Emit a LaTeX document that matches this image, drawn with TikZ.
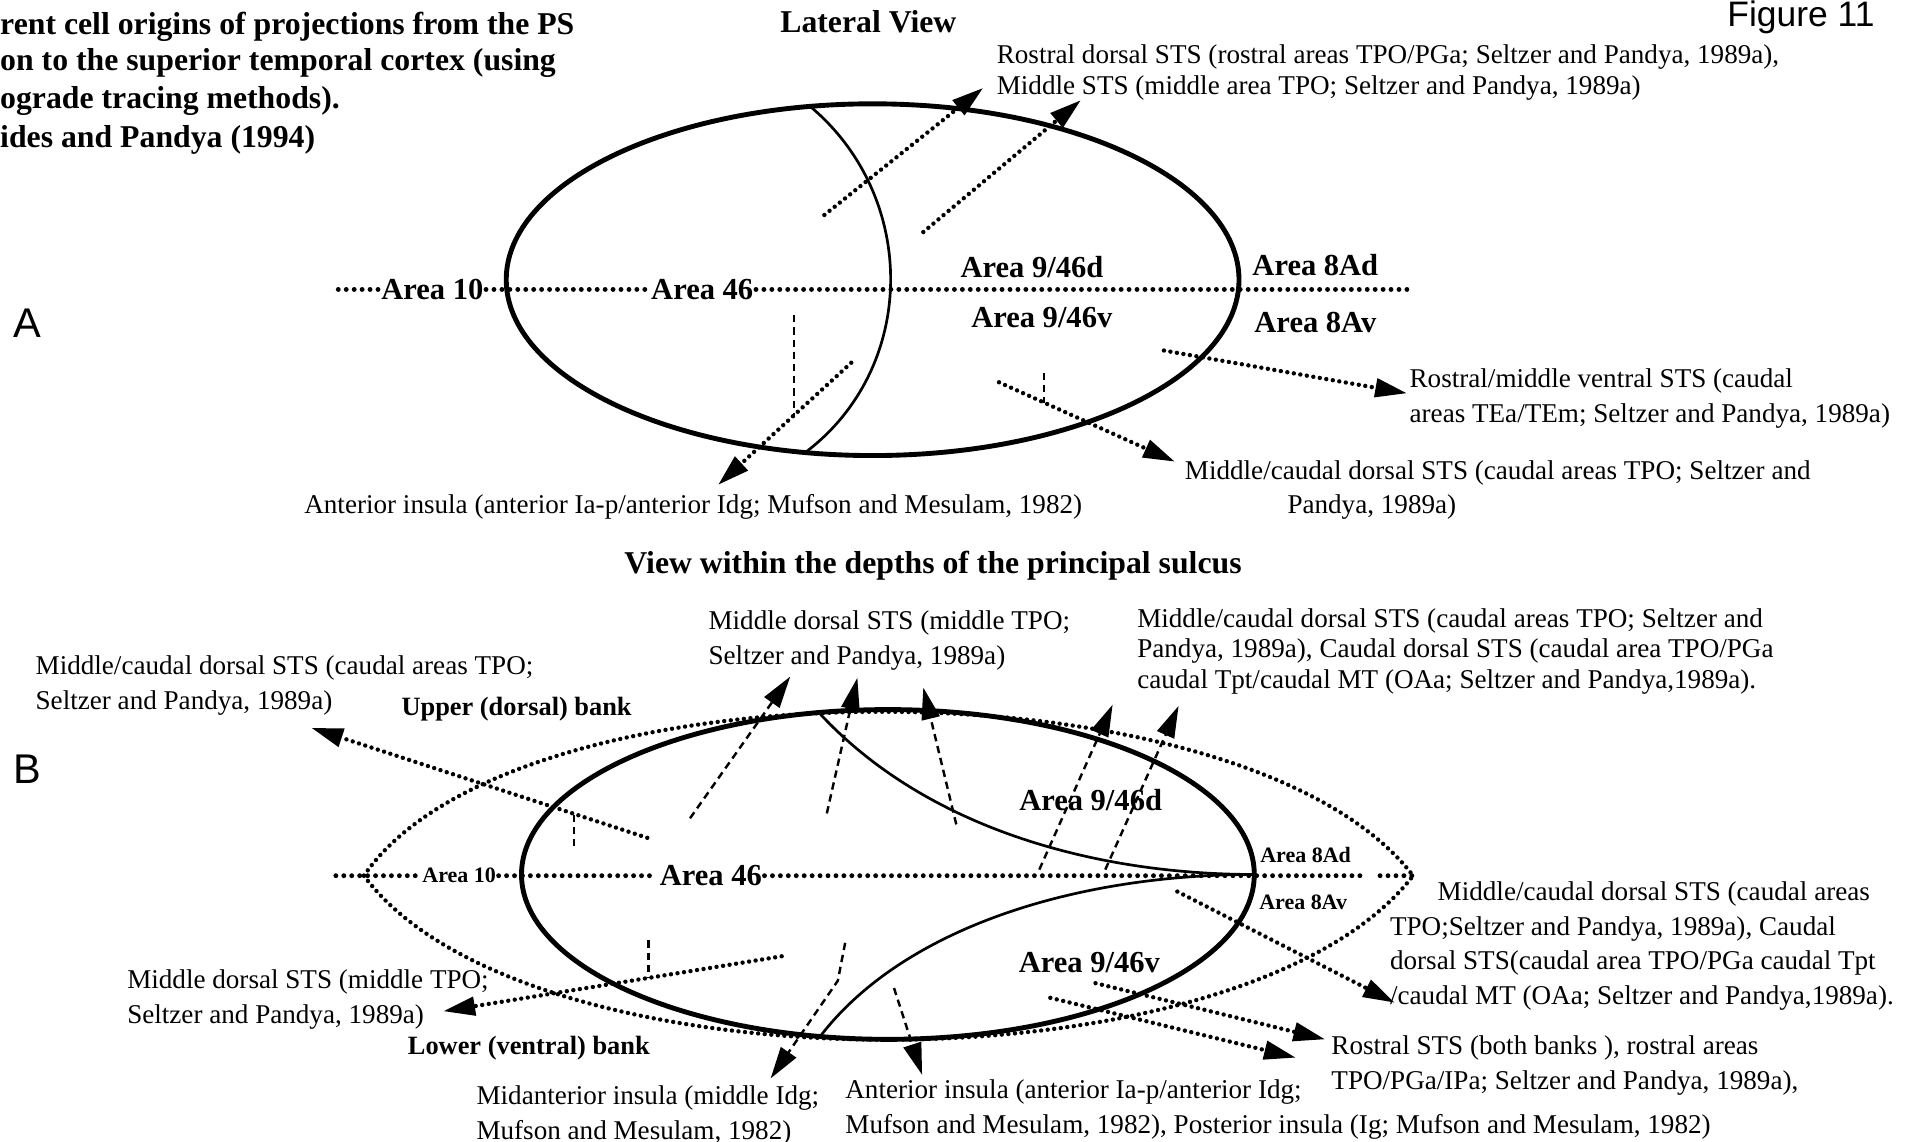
\documentclass[tikz,border=0pt]{standalone}
\usepackage{fontspec}
\setmainfont{Liberation Serif}
\newfontfamily\sansfam{Liberation Sans}
\usetikzlibrary{arrows.meta}
\begin{document}
\begin{tikzpicture}[x=1pt,y=-1pt,
  ell/.style={line width=4pt},
  thinline/.style={line width=2.2pt},
  dots/.style={line width=3.6pt, line cap=round, dash pattern=on 0pt off 5.4pt},
  adots/.style={line width=4pt, line cap=round, dash pattern=on 0pt off 6.5pt},
  dsh/.style={line width=2pt, dash pattern=on 6pt off 4pt},
  tip/.style={-{Triangle[length=26pt,width=15pt]}},
  body/.style={font=\fontsize{22.2}{28.2}\selectfont, inner sep=0pt, anchor=north west, align=left},
  ttl/.style={font=\bfseries\fontsize{26}{31}\selectfont, inner sep=0pt},
  area/.style={font=\bfseries\fontsize{25}{29}\selectfont, inner sep=2pt},
  smallarea/.style={font=\bfseries\fontsize{18}{22}\selectfont, inner sep=2pt},
  bank/.style={font=\bfseries\fontsize{21.6}{26}\selectfont, inner sep=0pt},
  panel/.style={font=\sansfam\fontsize{34}{40}\selectfont, inner sep=0pt},
]
\useasboundingbox (0,0) rectangle (1568,935);

% ---------- headings ----------
\node[ttl, anchor=base west] (h1) at (0,28) {rent cell origins of projections from the PS};
\node[ttl, anchor=base west] (h2) at (0,58) {on to the superior temporal cortex (using};
\node[ttl, anchor=base west] (h3) at (0,89) {ograde tracing methods).};
\node[ttl, anchor=base west] (h4) at (0,121) {ides and Pandya (1994)};
\node[ttl] (lat) at (711,18) {Lateral View};
\node[font=\sansfam\fontsize{29}{34}\selectfont, inner sep=0pt, anchor=east] (fig) at (1535,14) {Figure 11};
\node[panel] (pA) at (22,265) {A};
\node[panel] (pB) at (22,630) {B};
\node[ttl] (depth) at (764,463) {View within the depths of the principal sulcus};

% ---------- panel A: lateral view ----------
\draw[ell] (714.5,229) ellipse [x radius=300, y radius=144];
\draw[thinline] (662,86) .. controls (752,160) and (752,300) .. (660,370);

\coordinate (aL) at (277,237);
\coordinate (aR) at (1157,237);
\node[area] (a10) at (354,237) {Area 10};
\node[area] (a46) at (575,237) {Area 46};
\draw[adots] (aL) -- (a10.west);
\draw[adots] (a10.east) -- (a46.west);
\draw[adots] (a46.east) -- (aR);
\node[area] (a946d) at (845,219) {Area 9/46d};
\node[area] (a946v) at (853,260) {Area 9/46v};
\node[area] (a8ad) at (1077,217) {Area 8Ad};
\node[area] (a8av) at (1077,264) {Area 8Av};

% projections
\coordinate (r1s) at (675,176); \coordinate (r1e) at (805,72);
\coordinate (r2s) at (756,190); \coordinate (r2e) at (885,82);
\draw[dots,tip] (r1s) -- (r1e);
\draw[dots,tip] (r2s) -- (r2e);

\coordinate (ai1) at (697,297); \coordinate (ai2) at (588,397);
\coordinate (av1) at (650,258); \coordinate (av2) at (650,340);
\draw[dots,tip] (ai1) -- (ai2);
\draw[dsh] (av1) -- (av2);

\coordinate (mc1) at (818,313); \coordinate (mc2) at (962,378);
\coordinate (mv1) at (855,305); \coordinate (mv2) at (855,330);
\draw[dots,tip] (mc1) -- (mc2);
\draw[dsh] (mv1) -- (mv2);

\coordinate (rv1) at (953,287); \coordinate (rv2) at (1152,322);
\draw[dots,tip] (rv1) -- (rv2);

\node[body] (lA1) at (816,36) {Rostral dorsal STS (rostral areas TPO/PGa; Seltzer and Pandya, 1989a),\\[-2.2pt]Middle STS (middle area TPO; Seltzer and Pandya, 1989a)};
\node[body] (lA2) at (1154,302) {Rostral/middle ventral STS (caudal\\areas TEa/TEm; Seltzer and Pandya, 1989a)};
\node[body] (lA3) at (970,377) {Middle/caudal dorsal STS (caudal areas TPO; Seltzer and\\\hspace*{84pt}Pandya, 1989a)};
\node[body] (lA4) at (249,405) {Anterior insula (anterior Ia-p/anterior Idg; Mufson and Mesulam, 1982)};

% ---------- panel B: depths of the principal sulcus ----------
\coordinate (vL) at (298,717);
\coordinate (vR) at (1157,717);
\draw[dots] (vL) .. controls (420,538) and (1020,538) .. (vR);
\draw[dots] (vL) .. controls (430,896) and (1020,896) .. (vR);
\draw[ell] (727,716) ellipse [x radius=300, y radius=135];
\draw[thinline] (671,584) .. controls (760,680) and (900,716) .. (1027,716);
\draw[thinline] (672,848) .. controls (740,760) and (880,716) .. (1027,716);

\coordinate (bL) at (275,717);
\coordinate (bR1) at (1118,717);
\coordinate (bR2) at (1130,717);
\node[smallarea] (b10) at (376,717) {Area 10};
\node[area] (b46) at (582,717) {Area 46};
\draw[adots] (bL) -- (b10.west);
\draw[adots] (b10.east) -- (b46.west);
\draw[adots] (b46.east) -- (bR1);
\draw[adots] (bR2) -- (vR);
\node[area] (b946d) at (893,655) {Area 9/46d};
\node[area] (b946v) at (892,788) {Area 9/46v};
\node[smallarea] (b8ad) at (1069,700) {Area 8Ad};
\node[smallarea] (b8av) at (1067,739) {Area 8Av};
\node[bank] (up) at (423,581) {Upper (dorsal) bank};
\node[bank] (lo) at (433,858) {Lower (ventral) bank};

% upward projections
\coordinate (ua1) at (565,670); \coordinate (ua2) at (647,554);
\coordinate (ub1) at (677,666); \coordinate (ub2) at (702,555);
\coordinate (uc1) at (783,675); \coordinate (uc2) at (756,563);
\coordinate (ud1) at (851,712); \coordinate (ud2) at (911,577);
\coordinate (ue1) at (905,712); \coordinate (ue2) at (965,578);
\draw[dsh,tip] (ua1) -- (ua2);
\draw[dsh,tip] (ub1) -- (ub2);
\draw[dsh,tip] (uc1) -- (uc2);
\draw[dsh,tip] (ud1) -- (ud2);
\draw[dsh,tip] (ue1) -- (ue2);

% leftward projections
\coordinate (lt1) at (530,686); \coordinate (lt2) at (255,596);
\coordinate (ltv1) at (470,667); \coordinate (ltv2) at (470,693);
\draw[dots,tip] (lt1) -- (lt2);
\draw[dsh] (ltv1) -- (ltv2);
\coordinate (lb1) at (640,783); \coordinate (lb2) at (363,828);
\coordinate (lbv1) at (531,770); \coordinate (lbv2) at (531,801);
\draw[dots,tip] (lb1) -- (lb2);
\draw[dsh] (lbv1) -- (lbv2);

% downward projections
\coordinate (df1) at (692,772); \coordinate (dfk) at (686,803); \coordinate (df2) at (631,883);
\draw[dsh,tip] (df1) -- (dfk) -- (df2);
\coordinate (dg1) at (732,809); \coordinate (dg2) at (755,880);
\draw[dsh,tip] (dg1) -- (dg2);

% rightward projections
\coordinate (rh1) at (964,730); \coordinate (rh2) at (1142,821);
\draw[dots,tip] (rh1) -- (rh2);
\coordinate (ri1) at (897,805); \coordinate (ri2) at (1085,851);
\draw[dots,tip] (ri1) -- (ri2);
\coordinate (rj1) at (860,817); \coordinate (rj2) at (1061,866);
\draw[dots,tip] (rj1) -- (rj2);

\node[body] (lB1) at (580,500) {Middle dorsal STS (middle TPO;\\Seltzer and Pandya, 1989a)};
\node[body] (lB2) at (931,498) {Middle/caudal dorsal STS (caudal areas TPO; Seltzer and\\[-3.2pt]Pandya, 1989a), Caudal dorsal STS (caudal area TPO/PGa\\[-3.2pt]caudal Tpt/caudal MT (OAa; Seltzer and Pandya,1989a).};
\node[body] (lB3) at (29,537) {Middle/caudal dorsal STS (caudal areas TPO;\\Seltzer and Pandya, 1989a)};
\node[body] (lB4) at (1138,722) {\hspace*{39pt}Middle/caudal dorsal STS (caudal areas\\TPO;Seltzer and Pandya, 1989a), Caudal\\dorsal STS(caudal area TPO/PGa caudal Tpt\\/caudal MT (OAa; Seltzer and Pandya,1989a).};
\node[body] (lB5) at (104,794) {Middle dorsal STS (middle TPO;\\Seltzer and Pandya, 1989a)};
\node[body] (lB6) at (1090,848) {Rostral STS (both banks ), rostral areas\\TPO/PGa/IPa; Seltzer and Pandya, 1989a),};
\node[body] (lB7) at (390,889) {Midanterior insula (middle Idg;\\Mufson and Mesulam, 1982)};
\node[body] (lB8) at (692,884) {Anterior insula (anterior Ia-p/anterior Idg;\\Mufson and Mesulam, 1982), Posterior insula (Ig; Mufson and Mesulam, 1982)};
\end{tikzpicture}
\end{document}
